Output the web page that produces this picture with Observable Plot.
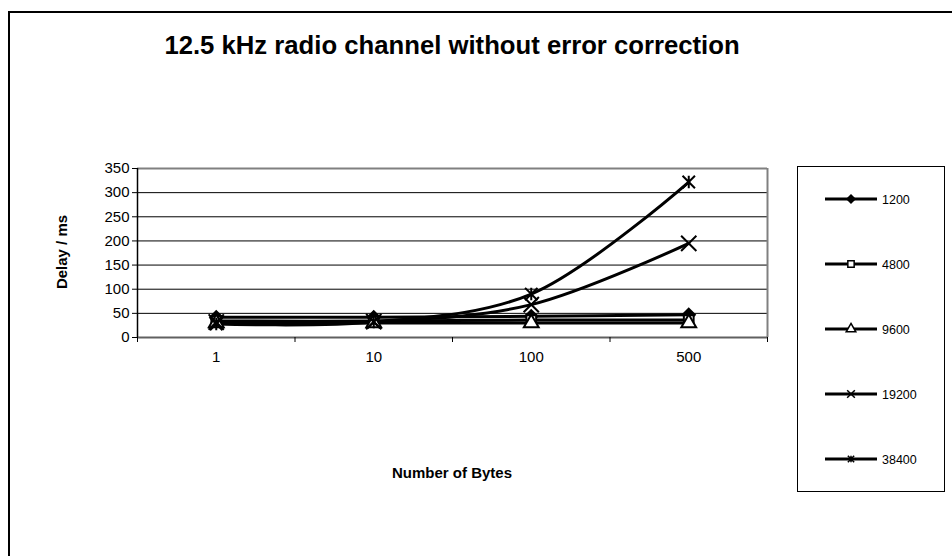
<!DOCTYPE html>
<html>
<head>
<meta charset="utf-8">
<script src="https://cdn.jsdelivr.net/npm/d3@7"></script>
<script src="https://cdn.jsdelivr.net/npm/@observablehq/plot@0.6"></script>
<style>
  html, body { margin: 0; padding: 0; background: #fff; }
  #wrap { position: relative; width: 952px; height: 556px; overflow: hidden; font-family: "Liberation Sans", Arial, sans-serif; }
  #frame { position: absolute; left: 8px; top: 11px; width: 1000px; height: 600px; border: 2px solid #000; box-sizing: border-box; }
  #wrap svg { position: absolute; left: 0; top: 0; }
</style>
</head>
<body>
<div id="wrap"><div id="frame"></div></div>
<script>
const title = "12.5 kHz radio channel without error correction";
const xTitle = "Number of Bytes";
const yTitle = "Delay / ms";
const categories = ["1", "10", "100", "500"];
const seriesNames = ["1200", "4800", "9600", "19200", "38400"];
const s1200  = [42, 42, 44, 47];
const s4800  = [34, 34, 36, 36];
const s9600  = [30, 30, 30, 30];
const s19200 = [32, 33, 68, 195];
const s38400 = [28, 32, 90, 322];
const yTicks = [0, 50, 100, 150, 200, 250, 300, 350];
const gridValues = [50, 100, 150, 200, 250, 300];

const seriesValues = [s1200, s4800, s9600, s19200, s38400];

// Excel-like "star" marker: an X with a vertical stroke
const starX = {
  draw(context, size) {
    const r = Math.sqrt(size) / 2;
    context.moveTo(-r, -r); context.lineTo(r, r);
    context.moveTo(-r, r); context.lineTo(r, -r);
    context.moveTo(0, -r); context.lineTo(0, r);
  }
};
const symbols = [d3.symbolDiamond2, d3.symbolSquare, d3.symbolTriangle, d3.symbolTimes, starX];
const fills = ["#000", "#fff", "#fff", "none", "none"];

const data = [];
seriesNames.forEach((name, k) => {
  seriesValues[k].forEach((v, i) => data.push({series: name, k, i, value: v}));
});
const boundaries = d3.range(-0.5, categories.length, 1);

const chart = Plot.plot({
  width: 952,
  height: 556,
  marginLeft: 137,
  marginRight: 185,
  marginTop: 168,
  marginBottom: 219,
  style: {fontFamily: "Liberation Sans, Arial, sans-serif", fontSize: "15px", color: "#000", background: "transparent", overflow: "visible"},
  x: {domain: [-0.5, categories.length - 0.5], axis: null},
  y: {domain: [0, 350], axis: null},
  marks: [
    Plot.ruleY(gridValues, {stroke: "#000", strokeWidth: 1}),
    Plot.ruleY([350], {stroke: "#808080", strokeWidth: 2}),
    Plot.ruleX([categories.length - 0.5], {stroke: "#808080", strokeWidth: 2}),
    Plot.ruleY([0], {stroke: "#606060", strokeWidth: 2}),
    Plot.ruleX([-0.5], {stroke: "#000", strokeWidth: 1.5}),
    Plot.axisY({ticks: yTicks, tickSize: 5, tickPadding: 3, fontSize: 15, tickFormat: d => d, anchor: "left", label: null}),
    Plot.axisX({ticks: boundaries, tickSize: 5, tickFormat: () => "", anchor: "bottom", label: null}),
    Plot.axisX({ticks: d3.range(categories.length), tickSize: 0, tickPadding: 14, fontSize: 15, tickFormat: i => categories[i], anchor: "bottom", label: null}),
    Plot.line(data, {x: "i", y: "value", z: "series", stroke: "#000", strokeWidth: 3, curve: "catmull-rom"}),
    ...seriesNames.map((name, k) =>
      Plot.dot(data.filter(d => d.k === k), {
        x: "i", y: "value", symbol: () => symbols[k], r: k >= 3 ? 7 : 5.5,
        fill: fills[k], stroke: "#000", strokeWidth: 2
      })
    )
  ]
});
document.getElementById("wrap").appendChild(chart);

const svg = d3.select(chart);
svg.selectAll('g[aria-label$="tick label"]').attr("font-size", 15).style("font-size", "15px");
const font = "Liberation Sans, Arial, sans-serif";
svg.append("text").attr("x", 452).attr("y", 54).attr("text-anchor", "middle")
  .attr("font-family", font).attr("font-weight", "bold").style("font-size", "25.7px").text(title);
svg.append("text").attr("x", 452).attr("y", 478).attr("text-anchor", "middle")
  .attr("font-family", font).attr("font-weight", "bold").style("font-size", "15px").text(xTitle);
svg.append("text").attr("transform", "translate(67,252) rotate(-90)").attr("text-anchor", "middle")
  .attr("font-family", font).attr("font-weight", "bold").style("font-size", "15px").text(yTitle);

// legend
const lg = svg.append("g");
lg.append("rect").attr("x", 797.5).attr("y", 166.5).attr("width", 147).attr("height", 325)
  .attr("fill", "#fff").attr("stroke", "#000").attr("stroke-width", 1);
seriesNames.forEach((name, k) => {
  const y = 199 + k * 65;
  const g = lg.append("g");
  g.append("line").attr("x1", 825).attr("x2", 877).attr("y1", y).attr("y2", y).attr("stroke", "#000").attr("stroke-width", 3);
  g.append("path").attr("transform", `translate(851,${y})`)
    .attr("d", d3.symbol(symbols[k], 40)())
    .attr("fill", fills[k]).attr("stroke", "#000").attr("stroke-width", 1.5);
  g.append("text").attr("x", 882).attr("y", y + 4.5).attr("text-anchor", "start")
    .attr("font-family", font).style("font-size", "12.5px").text(name);
});
</script>
</body>
</html>
